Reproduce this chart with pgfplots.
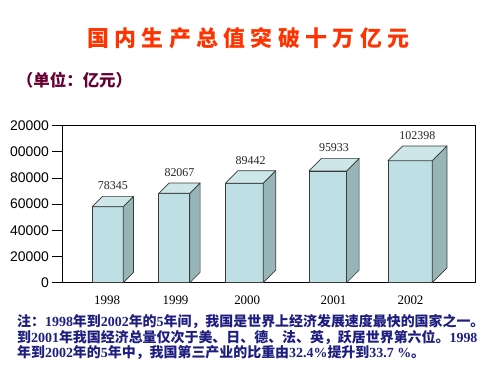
\documentclass[border=0pt]{standalone}
\usepackage{pgfplots}
\pgfplotsset{compat=1.18}
\usepackage{pgfplotstable}
\usepackage{fontspec}
\setmainfont{Liberation Serif}
\newfontfamily\sansf{Liberation Sans}
\newfontfamily\cjk{Noto Sans CJK SC}
\newfontfamily\cjktitle{Noto Sans CJK SC}[LetterSpace=24.5]
\definecolor{titlered}{HTML}{FF3300}
\definecolor{subcol}{HTML}{660033}
\definecolor{notecol}{HTML}{1E1E80}
\definecolor{front}{HTML}{BEE0E4}
\definecolor{side}{HTML}{97B4B7}
\definecolor{topc}{HTML}{CCE6E9}
\definecolor{edge}{HTML}{3A3A3A}
\newcommand\lat[1]{{\normalfont\bfseries #1}}

% pos = bar centre (px from axis left), w = front width, h = bar height, label = printed value
\pgfplotstableread{
pos w h label
45.2 31 58100 78345
111.8 31 68300 82067
181.8 37.7 76000 89442
265.2 37.7 85400 95933
347.5 44.3 93200 102398
}\gdp

\begin{document}
\begin{tikzpicture}
\useasboundingbox (0bp,0bp) rectangle (500bp,375bp);
\node[anchor=base west, inner sep=0pt, text=titlered, font=\cjktitle\bfseries\fontsize{22}{22}\selectfont] at (87bp,328.6bp) {国内生产总值突破十万亿元};
\node[anchor=base west, inner sep=0pt, text=subcol, font=\cjk\bfseries\fontsize{16.5}{16.5}\selectfont] at (16.8bp,288.2bp) {（单位：亿元）};
\node[anchor=base west, inner sep=0pt, text=notecol, font=\cjk\bfseries\fontsize{14}{15}\selectfont] at (17bp,48bp) {注：\lat{1998}年到\lat{2002}年的\lat{5}年间，我国是世界上经济发展速度最快的国家之一。};
\node[anchor=base west, inner sep=0pt, text=notecol, font=\cjk\bfseries\fontsize{14}{15}\selectfont] at (17bp,33bp) {到\lat{2001}年我国经济总量仅次于美、日、德、法、英，跃居世界第六位。\lat{1998}};
\node[anchor=base west, inner sep=0pt, text=notecol, font=\cjk\bfseries\fontsize{14}{15}\selectfont] at (17bp,18bp) {年到\lat{2002}年的\lat{5}年中，我国第三产业的比重由\lat{32.4\%}提升到\lat{33.7 \%}。};
\begin{axis}[
  at={(62.5bp,92.3bp)}, anchor=south west, scale only axis,
  width=412.5bp, height=157bp,
  xmin=0, xmax=412.5, ymin=0, ymax=120000,
  clip=false,
  scaled y ticks=false,
  axis line style={black, line width=0.8bp},
  xtick={44.7,113,184.7,271,348},
  xticklabels={1998,1999,2000,2001,2002},
  xtick style={draw=none},
  xticklabel style={font=\fontsize{13}{13}\selectfont, text=black},
  ytick={0,20000,40000,60000,80000,100000,120000},
  yticklabels={0,20000,40000,60000,80000,00000,20000},
  ytick pos=left, tick align=outside, major tick length=10bp,
  ytick style={black, line width=0.8bp},
  yticklabel style={font=\sansf\fontsize{14}{14}\selectfont, text=black},
]
\pgfplotstablegetrowsof{\gdp}
\pgfmathtruncatemacro\lastrow{\pgfplotsretval-1}
\pgfplotsforeachungrouped \i in {0,...,\lastrow}{%
  \pgfplotstablegetelem{\i}{pos}\of\gdp \let\bpos\pgfplotsretval
  \pgfplotstablegetelem{\i}{w}\of\gdp \let\bw\pgfplotsretval
  \pgfplotstablegetelem{\i}{h}\of\gdp \let\bh\pgfplotsretval
  \pgfplotstablegetelem{\i}{label}\of\gdp \let\blab\pgfplotsretval
  \pgfmathsetmacro\bd{\bw/3}%
  \pgfmathsetmacro\bdh{\bw/6}%
  \pgfmathsetmacro\bl{\bpos-\bw/2}%
  \pgfmathsetmacro\br{\bpos+\bw/2}%
  \pgfmathsetmacro\bly{\bw/3+6.5}%
  \edef\cmd{%
    \noexpand\addplot[ybar, bar width=\bw, bar shift=0pt, fill=front, draw=edge, line width=0.7bp] coordinates {(\bpos,\bh)};
    \noexpand\filldraw[fill=side, draw=edge, line width=0.7bp, line join=round] (axis cs:\br,0) -- (axis cs:\br,\bh) -- ([shift={(\bd bp,\bd bp)}]axis cs:\br,\bh) -- ([shift={(\bd bp,\bd bp)}]axis cs:\br,0) -- cycle;
    \noexpand\filldraw[fill=topc, draw=edge, line width=0.7bp, line join=round] (axis cs:\bl,\bh) -- (axis cs:\br,\bh) -- ([shift={(\bd bp,\bd bp)}]axis cs:\br,\bh) -- ([shift={(\bd bp,\bd bp)}]axis cs:\bl,\bh) -- cycle;
    \noexpand\node[anchor=base, inner sep=0pt, text=black!85, font=\noexpand\fontsize{12}{12}\noexpand\selectfont] at ([shift={(\bdh bp,\bly bp)}]axis cs:\bpos,\bh) {\blab};
  }%
  \cmd
}
\end{axis}
\end{tikzpicture}
\end{document}
